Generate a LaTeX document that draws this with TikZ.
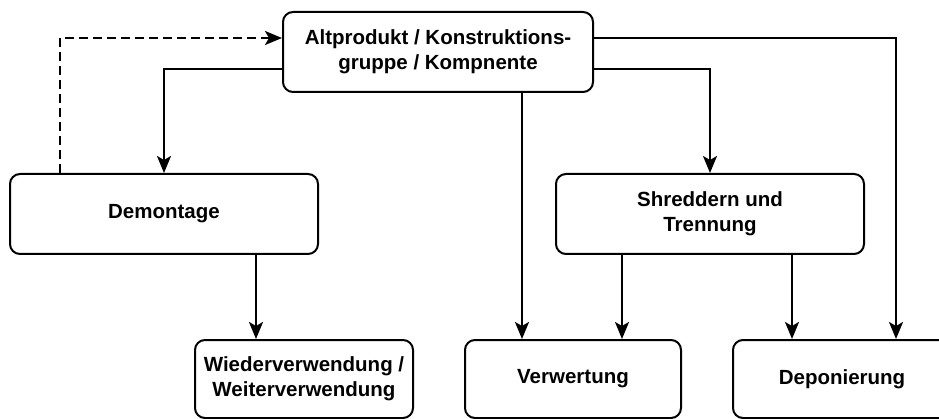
\documentclass[tikz,border=0pt]{standalone}
\usepackage{fontspec}
\setmainfont{Liberation Sans}
\usetikzlibrary{arrows.meta}
\begin{document}
\begin{tikzpicture}[x=1pt,y=-1pt,
  box/.style={draw, line width=2pt, rounded corners=10pt, align=center,
    inner sep=0pt, font=\fontsize{20.5}{25}\selectfont\bfseries},
  flow/.style={line width=2pt, -{Stealth[length=17pt,width=14pt,inset=4pt]}},
  back/.style={flow, dash pattern=on 9pt off 5pt}]
\useasboundingbox (0,0) rectangle (939,419);
\begin{scope}
\clip (0,0) rectangle (939,419);
% process boxes
\node[box, minimum width=310pt, minimum height=80pt] (top) at (438,52)
  {Altprodukt / Konstruktions-\\gruppe / Kompnente};
\node[box, minimum width=308pt, minimum height=80pt] (dem) at (164,214) {Demontage};
\node[box, minimum width=308pt, minimum height=80pt] (shr) at (710,214)
  {Shreddern und\\Trennung};
\node[box, minimum width=218pt, minimum height=78pt] (wie) at (304,379)
  {Wiederverwendung /\\Weiterverwendung};
\node[box, minimum width=216pt, minimum height=78pt] (ver) at (573,379) {Verwertung};
\node[box, minimum width=218pt, minimum height=78pt] (dep) at (842,379) {Deponierung};

% connectors
\draw[back] ([xshift=51pt]dem.north west) |- ([yshift=14pt]top.west);
\draw[flow] ([yshift=-17pt]top.west) -| (dem.north);
\draw[flow] ([yshift=14pt]top.east) -| ([xshift=54pt]dep.north);
\draw[flow] ([yshift=-17pt]top.east) -| (shr.north);
\coordinate (vl) at ([xshift=-51pt]ver.north);
\draw[flow] (top.south -| vl) -- (vl);
\coordinate (wl) at ([xshift=92pt]dem.south);
\draw[flow] (wl) -- (wl |- wie.north);
\coordinate (sl) at ([xshift=-88pt]shr.south);
\draw[flow] (sl) -- (sl |- ver.north);
\coordinate (sr) at ([xshift=82pt]shr.south);
\draw[flow] (sr) -- (sr |- dep.north);
\end{scope}
\end{tikzpicture}
\end{document}
